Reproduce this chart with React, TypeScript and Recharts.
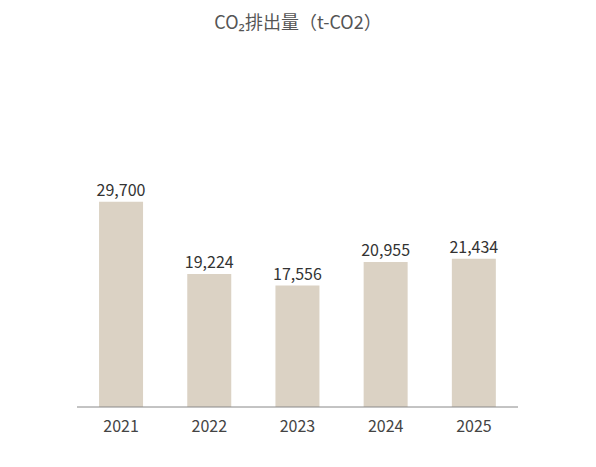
import { Bar, BarChart, LabelList, XAxis, YAxis } from "recharts";

const years = ["2021", "2022", "2023", "2024", "2025"];
const emissions = [29700, 19224, 17556, 20955, 21434];

const data = years.map((year, i) => ({ year, value: emissions[i] }));

const font = '"Noto Sans CJK JP", "Noto Sans", sans-serif';

export default function App() {
  return (
    <div
      style={{
        position: "absolute",
        left: 0,
        top: 0,
        width: 596,
        height: 467,
        background: "#fff",
        fontFamily: font,
      }}
    >
      <div
        style={{
          position: "absolute",
          top: 9,
          left: 0,
          width: 596,
          textAlign: "center",
          fontSize: 18,
          color: "#555",
          lineHeight: "24px",
        }}
      >
        CO₂排出量（t-CO2）
      </div>
      <BarChart
        width={596}
        height={467}
        data={data}
        margin={{ top: 165, right: 78, left: 77, bottom: 30 }}
        barCategoryGap="25%"
      >
        <XAxis
          dataKey="year"
          tickLine={false}
          axisLine={{ stroke: "#888" }}
          tickMargin={8}
          tick={{ fontSize: 16, fill: "#444", fontFamily: font }}
        />
        <YAxis hide domain={[0, 35000]} />
        <Bar dataKey="value" fill="#dbd2c4" isAnimationActive={false}>
          <LabelList
            dataKey="value"
            position="top"
            offset={6}
            formatter={(v: number) => v.toLocaleString("en-US")}
            style={{ fontSize: 16, fill: "#333", fontFamily: font }}
          />
        </Bar>
      </BarChart>
    </div>
  );
}
